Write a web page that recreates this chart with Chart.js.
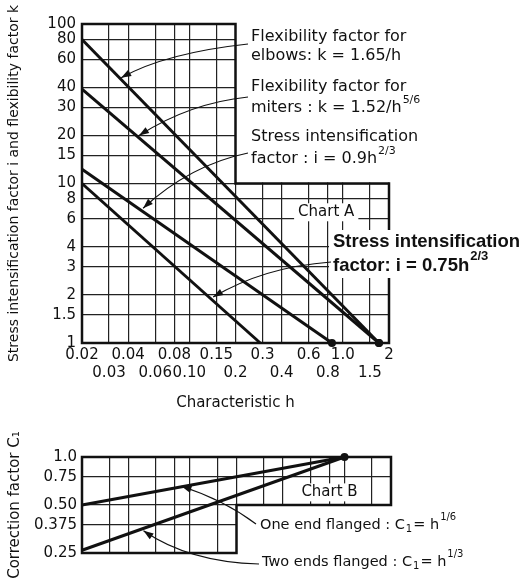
<!DOCTYPE html>
<html>
<head>
<meta charset="utf-8">
<script src="https://cdn.jsdelivr.net/npm/chart.js@4/dist/chart.umd.min.js"></script>
<style>
  body { margin: 0; background: #fff; }
  #wrap { position: relative; width: 528px; height: 586px; }
  #chartA { position: absolute; left: 0; top: 0; }
  #chartB { position: absolute; left: 0; top: 412px; }
</style>
</head>
<body>
<div id="wrap">
  <canvas id="chartA" width="528" height="412"></canvas>
  <canvas id="chartB" width="528" height="174"></canvas>
</div>
<script>
// axis ticks
const hTicks = [0.02, 0.03, 0.04, 0.06, 0.08, 0.10, 0.15, 0.2, 0.3, 0.4, 0.6, 0.8, 1.0, 1.5, 2];
const hTickLabels = ['0.02', '0.03', '0.04', '0.06', '0.08', '0.10', '0.15', '0.2', '0.3', '0.4', '0.6', '0.8', '1.0', '1.5', '2'];
const ikTicks = [1, 1.5, 2, 3, 4, 6, 8, 10, 15, 20, 30, 40, 60, 80, 100];
const ikTickLabels = ['1', '1.5', '2', '3', '4', '6', '8', '10', '15', '20', '30', '40', '60', '80', '100'];
const c1Ticks = [0.25, 0.375, 0.5, 0.75, 1.0];
const c1TickLabels = ['0.25', '0.375', '0.50', '0.75', '1.0'];

// Chart A - straight lines on log-log paper, read at both ends
const elbowH = [0.02, 1.72];
const elbowK = [80, 1];
const miterH = [0.02, 1.72];
const miterK = [39, 1];
const stress09H = [0.02, 0.85];
const stress09I = [12.3, 1];
const stress075H = [0.02, 0.29];
const stress075I = [10, 1];

// Chart B
const oneEndH = [0.02, 1.0];
const oneEndC = [0.5, 1.0];
const twoEndsH = [0.02, 1.0];
const twoEndsC = [0.26, 1.0];

const INK = '#111';
const FONT = '"DejaVu Sans"';
Chart.defaults.font.family = FONT;
Chart.defaults.font.size = 15;
Chart.defaults.color = INK;

const pts = (xs, ys) => xs.map((x, i) => ({ x, y: ys[i] }));

function lineSet(xs, ys, dot) {
  return {
    data: pts(xs, ys),
    borderColor: INK,
    backgroundColor: INK,
    borderWidth: 3,
    pointRadius: dot ? [0, 4] : 0,
    pointBorderWidth: 0,
    tension: 0,
    clip: false
  };
}

function logAxis(min, max, ticks, labels) {
  return {
    type: 'logarithmic',
    min, max,
    afterBuildTicks: s => { s.ticks = ticks.map(v => ({ value: v })); },
    ticks: { autoSkip: false, maxRotation: 0, color: INK, callback: (v, i) => labels[i] },
    grid: { color: '#222', lineWidth: 1.2, drawTicks: false },
    border: { display: false }
  };
}

// text with ^sup / _sub parts
function richText(ctx, x, y, parts, size, weight) {
  let cx = x;
  const fam = weight === 'bold' ? '"Liberation Sans"' : FONT;
  ctx.textBaseline = 'middle';
  ctx.textAlign = 'left';
  ctx.fillStyle = INK;
  for (const p of parts) {
    if (typeof p === 'string') {
      ctx.font = `${weight} ${size}px ${fam}`;
      ctx.fillText(p, cx, y);
      cx += ctx.measureText(p).width;
    } else {
      ctx.font = `${weight} ${Math.round(size * 0.7)}px ${fam}`;
      const t = p.sup || p.sub;
      ctx.fillText(t, cx + 1, p.sup ? y - size * 0.5 : y + size * 0.3);
      cx += ctx.measureText(t).width + 2;
    }
  }
  return cx;
}

function arrow(ctx, p0, c, tip) {
  ctx.strokeStyle = INK;
  ctx.fillStyle = INK;
  ctx.lineWidth = 1.2;
  ctx.beginPath();
  ctx.moveTo(p0[0], p0[1]);
  ctx.quadraticCurveTo(c[0], c[1], tip[0], tip[1]);
  ctx.stroke();
  const a = Math.atan2(tip[1] - c[1], tip[0] - c[0]);
  const L = 10, W = 3.5;
  ctx.beginPath();
  ctx.moveTo(tip[0], tip[1]);
  ctx.lineTo(tip[0] - L * Math.cos(a) + W * Math.sin(a), tip[1] - L * Math.sin(a) - W * Math.cos(a));
  ctx.lineTo(tip[0] - L * Math.cos(a) - W * Math.sin(a), tip[1] - L * Math.sin(a) + W * Math.cos(a));
  ctx.closePath();
  ctx.fill();
}

function boxedLabel(ctx, text, x, y) {
  ctx.font = `15px ${FONT}`;
  const w = ctx.measureText(text).width;
  ctx.fillStyle = '#fff';
  ctx.fillRect(x - w / 2 - 4, y - 9, w + 8, 18);
  ctx.fillStyle = INK;
  ctx.textAlign = 'center';
  ctx.textBaseline = 'middle';
  ctx.fillText(text, x, y);
}

const paperA = {
  id: 'paperA',
  beforeDatasetsDraw(chart) {
    const { ctx, chartArea: { left, right, top, bottom }, scales: { x, y } } = chart;
    const xCut = x.getPixelForValue(0.2), yCut = y.getPixelForValue(10);
    ctx.save();
    ctx.fillStyle = '#fff';
    ctx.fillRect(xCut, top - 3, right - xCut + 4, yCut - top + 2);
    boxedLabel(ctx, 'Chart A', x.getPixelForValue(0.78), y.getPixelForValue(6.6));
    ctx.strokeStyle = INK;
    ctx.lineWidth = 2.5;
    ctx.beginPath();
    ctx.moveTo(left, top);
    ctx.lineTo(xCut, top);
    ctx.lineTo(xCut, yCut);
    ctx.lineTo(right, yCut);
    ctx.lineTo(right, bottom);
    ctx.lineTo(left, bottom);
    ctx.closePath();
    ctx.stroke();
    ctx.restore();
  },
  afterDraw(chart) {
    const { ctx, scales: { x, y } } = chart;
    const at = (h, v) => [x.getPixelForValue(h), y.getPixelForValue(v)];
    ctx.save();
    richText(ctx, 251, 37, ['Flexibility factor for'], 16, 'normal');
    richText(ctx, 251, 56, ['elbows: k = 1.65/h'], 16, 'normal');
    arrow(ctx, [248, 44], [165, 53], at(0.036, 46));
    richText(ctx, 251, 87, ['Flexibility factor for'], 16, 'normal');
    richText(ctx, 251, 108, ['miters : k = 1.52/h', { sup: '5/6' }], 16, 'normal');
    arrow(ctx, [248, 97], [190, 103], at(0.047, 20));
    richText(ctx, 251, 137, ['Stress intensification'], 16, 'normal');
    richText(ctx, 251, 159, ['factor : i = 0.9h', { sup: '2/3' }], 16, 'normal');
    arrow(ctx, [248, 153], [190, 165], at(0.05, 7));
    // bold note sits on a white patch over the grid
    ctx.fillStyle = '#fff';
    ctx.fillRect(329, 230, 199, 48);
    richText(ctx, 333, 242, ['Stress intensification'], 18.5, 'bold');
    richText(ctx, 333, 266, ['factor: i = 0.75h', { sup: '2/3' }], 18.5, 'bold');
    arrow(ctx, [331, 262], [264, 267], at(0.143, 1.94));
    ctx.restore();
  }
};

const paperB = {
  id: 'paperB',
  beforeDatasetsDraw(chart) {
    const { ctx, chartArea: { left, right, top, bottom }, scales: { x, y } } = chart;
    const xCut = x.getPixelForValue(0.2), yCut = y.getPixelForValue(0.5);
    ctx.save();
    ctx.fillStyle = '#fff';
    ctx.fillRect(xCut, yCut, right - xCut + 4, bottom - yCut + 4);
    boxedLabel(ctx, 'Chart B', x.getPixelForValue(0.8), y.getPixelForValue(0.6));
    ctx.strokeStyle = INK;
    ctx.lineWidth = 2.5;
    ctx.beginPath();
    ctx.moveTo(left, top);
    ctx.lineTo(right, top);
    ctx.lineTo(right, yCut);
    ctx.lineTo(xCut, yCut);
    ctx.lineTo(xCut, bottom);
    ctx.lineTo(left, bottom);
    ctx.closePath();
    ctx.stroke();
    ctx.restore();
  },
  afterDraw(chart) {
    const { ctx, scales: { x, y } } = chart;
    const at = (h, v) => [x.getPixelForValue(h), y.getPixelForValue(v)];
    ctx.save();
    richText(ctx, 260, 113, ['One end flanged : C', { sub: '1' }, '= h', { sup: '1/6' }], 14.5, 'normal');
    arrow(ctx, [256, 112], [224, 88], at(0.088, 0.655));
    richText(ctx, 262, 150, ['Two ends flanged : C', { sub: '1' }, '= h', { sup: '1/3' }], 14.5, 'normal');
    arrow(ctx, [259, 152], [189, 150], at(0.05, 0.345));
    ctx.restore();
  }
};

const xA = logAxis(0.02, 2, hTicks, hTickLabels);
xA.afterFit = s => { s.height = 69; };
xA.ticks.padding = 3;
xA.ticks.font = { size: 15, lineHeight: 1.2 };
xA.ticks.callback = (v, i) => (i % 2 ? ['', hTickLabels[i]] : hTickLabels[i]);
xA.title = { display: true, text: 'Characteristic h', padding: 0, font: { size: 15 } };

const yA = logAxis(1, 100, ikTicks, ikTickLabels);
yA.afterFit = s => { s.width = 82; };
yA.ticks.padding = 6;
yA.title = { display: true, text: 'Stress intensification factor i and flexibility factor k', padding: { top: 6, bottom: 0 }, font: { size: 14 } };

new Chart(document.getElementById('chartA'), {
  type: 'line',
  data: {
    datasets: [
      lineSet(elbowH, elbowK, true),
      lineSet(miterH, miterK, true),
      lineSet(stress09H, stress09I, true),
      lineSet(stress075H, stress075I, false)
    ]
  },
  options: {
    responsive: false,
    animation: false,
    events: [],
    layout: { padding: { left: 0, right: 139, top: 24, bottom: 0 } },
    scales: { x: xA, y: yA },
    plugins: { legend: { display: false }, tooltip: { enabled: false } }
  },
  plugins: [paperA]
});

const xB = logAxis(0.02, 2, hTicks, hTickLabels);
xB.afterFit = s => { s.height = 0; };
xB.ticks.display = false;

const yB = logAxis(0.25, 1.0, c1Ticks, c1TickLabels);
yB.afterFit = s => { s.width = 82; };
yB.ticks.padding = 5;
yB.title = { display: true, text: 'Correction factor C₁', padding: { top: 6, bottom: 0 }, font: { size: 15 } };

new Chart(document.getElementById('chartB'), {
  type: 'line',
  data: {
    datasets: [
      lineSet(oneEndH, oneEndC, true),
      lineSet(twoEndsH, twoEndsC, false)
    ]
  },
  options: {
    responsive: false,
    animation: false,
    events: [],
    layout: { padding: { left: 0, right: 137, top: 45, bottom: 33 } },
    scales: { x: xB, y: yB },
    plugins: { legend: { display: false }, tooltip: { enabled: false } }
  },
  plugins: [paperB]
});
</script>
</body>
</html>
